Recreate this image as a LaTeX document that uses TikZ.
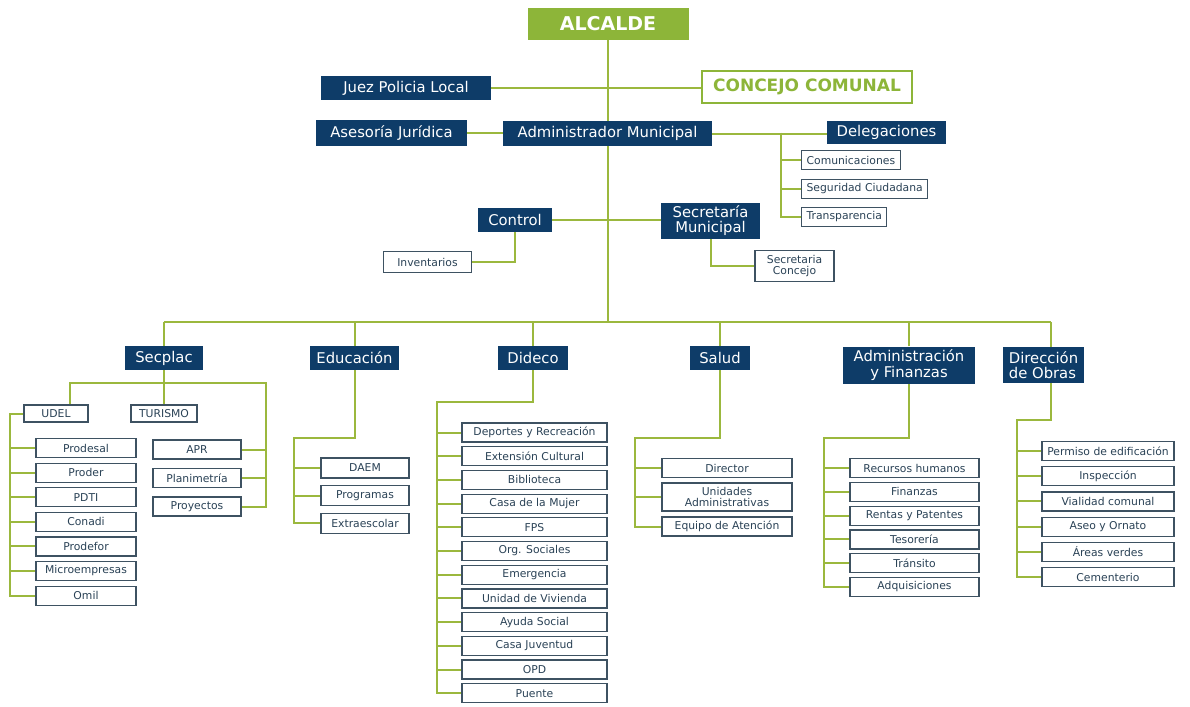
\documentclass[tikz,border=0pt]{standalone}
\usepackage{fontspec}
\setmainfont{DejaVu Sans}
\usepackage{tikz}
\usetikzlibrary{positioning, backgrounds}

\definecolor{navy}{RGB}{14,60,104}
\definecolor{leaf}{RGB}{141,181,57}
\definecolor{wiregreen}{RGB}{155,184,62}
\definecolor{frame}{RGB}{62,82,98}
\definecolor{ink}{RGB}{42,66,86}

\tikzset{
  dept/.style={fill=navy, text=white, font=\fontsize{14.8}{15.5}\selectfont, align=center,
    inner sep=0pt, minimum height=24pt},
  unit/.style={draw=frame, line width=1.2pt, fill=white, text=ink,
    font=\fontsize{10.8}{11.8}\selectfont, align=center, inner sep=0pt, minimum height=19pt},
  link/.style={draw=wiregreen, line width=2pt}
}

\begin{document}
\begin{tikzpicture}[x=1pt, y=-1pt]
\useasboundingbox (0,0) rectangle (1190,706);

% Top level
\node[fill=leaf, text=white, font=\fontsize{19}{20}\selectfont\bfseries,
  minimum width=161pt, minimum height=32pt] (alcalde) at (608,24) {ALCALDE};
\node[draw=leaf, line width=2pt, text=leaf, fill=white, font=\fontsize{17}{18}\selectfont\bfseries,
  minimum width=210pt, minimum height=32pt] (concejo) at (807,87) {CONCEJO COMUNAL};
\node[dept, minimum width=170pt] (juez) at (406,88) {Juez Policia Local};
\node[dept, minimum width=151pt, minimum height=25pt] (asesoria) at (391.5,133) {Asesoría Jurídica};
\node[dept, minimum width=209pt, minimum height=24pt] (admin) at (607.5,133.5) {Administrador Municipal};
\node[dept, minimum width=119pt, minimum height=23pt] (deleg) at (886.5,132.5) {Delegaciones};

% Delegaciones
\node[unit, anchor=west, inner xsep=5pt] (comunic) at (801,160) {Comunicaciones};
\node[unit, anchor=west, inner xsep=5pt] (segur) at (801,189) {Seguridad Ciudadana};
\node[unit, anchor=west, inner xsep=5pt] (transp) at (801,217) {Transparencia};

% Control and Secretaria
\node[dept, minimum width=74pt] (ctrl) at (515,219.5) {Control};
\node[dept, minimum width=99pt, minimum height=36pt] (secmun) at (710.5,220.5) {Secretaría\\Municipal};
\node[unit, minimum width=88pt, minimum height=21pt] (invent) at (427.5,262) {Inventarios};
\node[unit, minimum width=79pt, minimum height=31pt] (secconc) at (794.5,266) {Secretaria\\Concejo};

% Departments
\node[dept, minimum width=78pt] (secplac) at (164,358) {Secplac};
\node[dept, minimum width=89pt] (educ) at (354.5,358) {Educación};
\node[dept, minimum width=70pt] (dideco) at (533,358) {Dideco};
\node[dept, minimum width=60pt] (salud) at (720,358) {Salud};
\node[dept, minimum width=132pt, minimum height=37pt] (adfin) at (909,365) {Administración\\y Finanzas};
\node[dept, align=left, minimum width=81pt, minimum height=36pt] (obras) at (1043.5,365) {Dirección\\de Obras};

% Secplac units
\node[unit, minimum width=64pt, minimum height=17pt] (udel) at (56,413.5) {UDEL};
\node[unit, minimum width=66pt, minimum height=17pt] (turismo) at (164,413.5) {TURISMO};
\foreach \txt [count=\i] in {Prodesal, Proder, PDTI, Conadi, Prodefor, Microempresas, Omil}
  \node[unit, minimum width=100pt] (udel\i) at (86,{448+24.6*(\i-1)}) {\txt};
\node[unit, minimum width=88pt] (apr) at (197,449.5) {APR};
\node[unit, minimum width=88pt] (plan) at (197,478) {Planimetría};
\node[unit, minimum width=88pt] (proy) at (197,506.5) {Proyectos};

% Educacion units
\foreach \txt [count=\i] in {DAEM, Programas, Extraescolar}
  \node[unit, minimum width=88pt, minimum height=20pt] (educ\i) at (365,{468+27.6*(\i-1)}) {\txt};

% Dideco units
\foreach \txt [count=\i] in {Deportes y Recreación, Extensión Cultural, Biblioteca, Casa de la Mujer,
    FPS, Org. Sociales, Emergencia, Unidad de Vivienda, Ayuda Social, Casa Juventud, OPD, Puente}
  \node[unit, minimum width=145pt] (dideco\i) at (534.5,{432.5+23.7*(\i-1)}) {\txt};

% Salud units
\node[unit, minimum width=130pt] (salud1) at (727,468) {Director};
\node[unit, minimum width=130pt, minimum height=28pt] (salud2) at (727,497) {Unidades\\Administrativas};
\node[unit, minimum width=130pt] (salud3) at (727,526.5) {Equipo de Atención};

% Administracion y Finanzas units
\foreach \txt [count=\i] in {Recursos humanos, Finanzas, Rentas y Patentes, Tesorería, Tránsito, Adquisiciones}
  \node[unit, minimum width=129pt] (adfin\i) at (914.5,{468+23.8*(\i-1)}) {\txt};

% Obras units
\foreach \txt [count=\i] in {Permiso de edificación, Inspección, Vialidad comunal, Aseo y Ornato,
    Áreas verdes, Cementerio}
  \node[unit, minimum width=132pt] (obras\i) at (1108,{451+25.2*(\i-1)}) {\txt};

% Spines
\coordinate (busL) at (164,322);
\coordinate (busR) at ([xshift=7.5pt]obras.north |- busL);
\coordinate (delsp) at (781,132.5);
\coordinate (sbL) at (70,383);
\coordinate (sbR) at (266,383);
\coordinate (usp) at (10,413.5);
\coordinate (esp) at (294,438);
\coordinate (dsp) at (437,402);
\coordinate (ssp) at (635,438);
\coordinate (asp) at (824,438);
\coordinate (osp) at (1017,420);

\begin{scope}[on background layer]
  % Main line and bus
  \draw[link] (alcalde.south) -- (alcalde.south |- busL);
  \draw[link] (juez.east) -- (juez.east -| concejo.west);
  \draw[link] (asesoria.east) -- (asesoria.east -| admin.west);
  \draw[link] (admin.east) -- (admin.east -| deleg.west);
  \draw[link] (delsp) |- (transp.west);
  \draw[link] (delsp |- comunic.west) -- (comunic.west);
  \draw[link] (delsp |- segur.west) -- (segur.west);
  \draw[link] (ctrl.east) -- (ctrl.east -| secmun.west);
  \draw[link] (ctrl.south) |- (invent.east);
  \draw[link] (secmun.south) |- (secconc.west);
  \draw[link] (busL) -- (busR);
  \foreach \d in {secplac, educ, dideco, salud, adfin}
    \draw[link] (\d.north) -- (\d.north |- busL);
  \draw[link] (busR) -- (busR |- obras.north);
  % Secplac
  \draw[link] (secplac.south) -- (secplac.south |- turismo.north);
  \draw[link] (udel.north -| sbL) -- (sbL) -- (sbR) |- (proy.east);
  \draw[link] (apr.east) -- (apr.east -| sbR);
  \draw[link] (plan.east) -- (plan.east -| sbR);
  \draw[link] (udel.west) -- (usp) |- (udel7.west);
  \foreach \i in {1,...,6}
    \draw[link] (udel\i.west) -- (udel\i.west -| usp);
  % Educacion
  \draw[link] (educ.south) |- (esp) |- (educ3.west);
  \foreach \i in {1,2}
    \draw[link] (educ\i.west) -- (educ\i.west -| esp);
  % Dideco
  \draw[link] (dideco.south) |- (dsp) |- (dideco12.west);
  \foreach \i in {1,...,11}
    \draw[link] (dideco\i.west) -- (dideco\i.west -| dsp);
  % Salud
  \draw[link] (salud.south) |- (ssp) |- (salud3.west);
  \foreach \i in {1,2}
    \draw[link] (salud\i.west) -- (salud\i.west -| ssp);
  % Administracion y Finanzas
  \draw[link] (adfin.south) |- (asp) |- (adfin6.west);
  \foreach \i in {1,...,5}
    \draw[link] (adfin\i.west) -- (adfin\i.west -| asp);
  % Obras
  \draw[link] (busR |- obras.south) |- (osp) |- (obras6.west);
  \foreach \i in {1,...,5}
    \draw[link] (obras\i.west) -- (obras\i.west -| osp);
\end{scope}
\end{tikzpicture}
\end{document}
